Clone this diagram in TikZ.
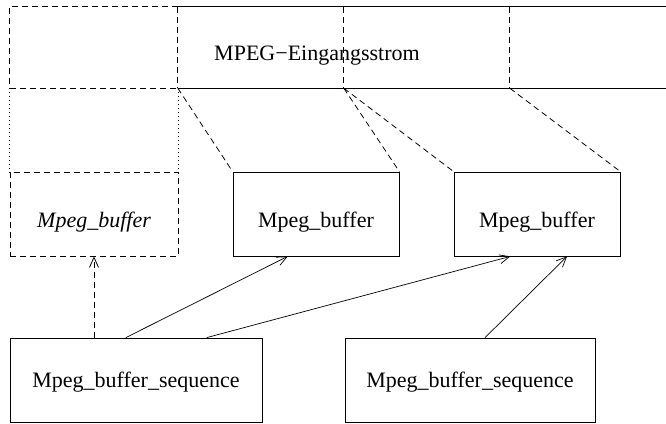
\documentclass[tikz,border=0pt]{standalone}
\usepackage{fontspec}
\setmainfont{Liberation Serif}
\usetikzlibrary{arrows.meta}
\usetikzlibrary{calc}

\tikzset{
  cell/.style={minimum height=81pt, inner sep=0pt},
  box/.style={draw, line width=0.8pt, minimum width=#1, minimum height=84pt, inner sep=0pt,
    font=\fontsize{22}{26}\selectfont},
  bufbox/.style={box=#1, text height=28pt, text depth=0pt},
  seqbox/.style={box=#1, text height=14pt, text depth=0pt},
  dashline/.style={line width=0.8pt, dash pattern=on 6pt off 4pt},
  dotline/.style={line width=0.8pt, dash pattern=on 0.8pt off 3.2pt},
  uses/.style={line width=0.7pt, -{Straight Barb[length=10pt,width=9pt]}}
}

\begin{document}
\begin{tikzpicture}[x=1pt, y=1pt]

            \useasboundingbox (0,0) rectangle (666,423);

            % input stream
            \node[cell, minimum width=168pt] (cell0) at (94,375.5) {};
            \node[cell, minimum width=166pt] (cell1) at (261,375.5) {};
            \node[cell, minimum width=166pt] (cell2) at (427,375.5) {};
            \node[cell, minimum width=156pt] (cell3) at (588,375.5) {};
            \node[font=\fontsize{22}{26}\selectfont] (stream) at (317,367) {MPEG−Eingangsstrom};

            \draw[line width=0.8pt] (cell1.north west) -- (cell3.north east);
            \draw[line width=0.8pt] (cell1.south west) -- (cell3.south east);
            \draw[dashline] (cell1.north west) -- (cell1.south west);
            \draw[dashline] (cell2.north west) -- (cell2.south west);
            \draw[dashline] (cell3.north west) -- (cell3.south west);
            \draw[dashline] (cell0.north east) -- (cell0.north west)
            -- (cell0.south west) -- (cell0.south east);

            % buffers
            \node[cell, minimum width=168pt, minimum height=84pt] (gap) at (94,293) {};
            \draw[dotline] (gap.north west) -- (gap.south west);
            \draw[dotline] (gap.north east) -- (gap.south east);

            \node[bufbox=168pt, dashline] (gbuf) at (94,209) {\itshape Mpeg\_buffer};
            \node[bufbox=166pt] (buf1) at (316,209) {Mpeg\_buffer};
            \node[bufbox=166pt] (buf2) at (537,209) {Mpeg\_buffer};

            \draw[dashline] (cell1.south west) -- (buf1.north west);
            \draw[dashline] (cell2.south west) -- (buf1.north east);
            \draw[dashline] (cell2.south west) -- (buf2.north west);
            \draw[dashline] (cell3.south west) -- (buf2.north east);

            % sequences
            \node[seqbox=252pt] (seq1) at (136,43) {Mpeg\_buffer\_sequence};
            \node[seqbox=250pt] (seq2) at (470,43) {Mpeg\_buffer\_sequence};

            \draw[uses, dashline] (gbuf.south |- seq1.north) -- (gbuf.south);
            \draw[uses] ($(seq1.north west)!0.46!(seq1.north east)$)
            -- ($(buf1.south west)!0.33!(buf1.south east)$);
            \draw[uses] ($(seq1.north west)!0.78!(seq1.north east)$)
            -- ($(buf2.south west)!0.34!(buf2.south east)$);
            \draw[uses] ($(seq2.north west)!0.56!(seq2.north east)$)
            -- ($(buf2.south west)!0.68!(buf2.south east)$);
        \end{tikzpicture}
\end{document}
